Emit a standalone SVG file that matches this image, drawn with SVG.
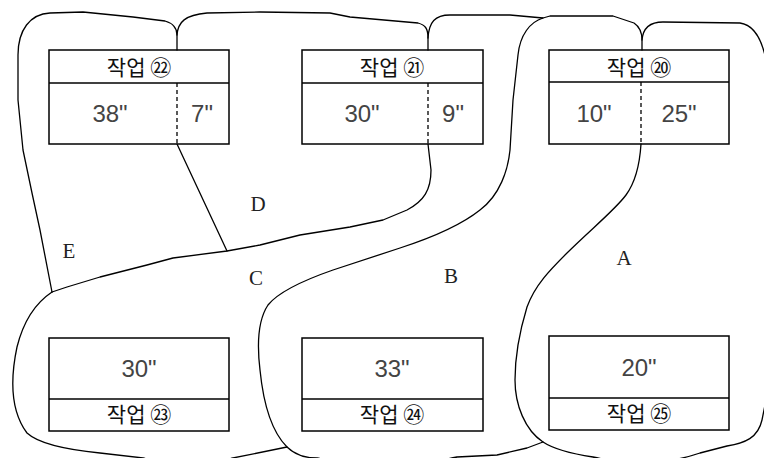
<svg xmlns="http://www.w3.org/2000/svg" width="764" height="458" viewBox="0 0 764 458">
<style>
.box{fill:none;stroke:#000;stroke-width:1.5}
.dash{stroke:#000;stroke-width:1.3;stroke-dasharray:4 3}
.ln{fill:none;stroke:#000;stroke-width:1.3;stroke-linejoin:round;stroke-linecap:round}
.kr{font-family:"Noto Sans CJK KR","Noto Sans",sans-serif;font-size:21px;fill:#111;text-anchor:middle}
.num{font-family:"Liberation Sans",Arial,sans-serif;font-size:24px;fill:#444;text-anchor:middle}
.lbl{font-family:"Liberation Serif","Times New Roman",serif;font-size:21px;fill:#222;text-anchor:middle}
</style>
<rect width="764" height="458" fill="#fff"/>
<g id="connectors">
<path class="ln" d="M177,50 L177,35 C177,27 172,23 165,21 L133,17 L83,12 L50,13 C30,14 18,30 18,55 L18,100 L23,150 L32,193 L40,230 L52,292"/>
<path class="ln" d="M177,35 C178,22 185,15 207,13 L260,12 L330,13 L350,17 L418,23 C425,25 428,28 428,38 L428,50"/>
<path class="ln" d="M428,38 C429,22 435,15 450,15 L510,15 L543,18 L550,16 L613,16 L634,23 C640,27 642,32 642,40 L642,50"/>
<path class="ln" d="M177,144 L227,251"/>
<path class="ln" d="M52,292 L67,287 L100,277 L147,265 L173,258 L227,251 L260,245 L300,235 L350,227 L383,220 L407,210 C424,201 431,190 431,170 L428,144"/>
<path class="ln" d="M52,292 C40,300 25,315 17,347 C10,380 10,410 27,433 C40,445 70,450 100,453 L143,458 Q188,470 233,458 L287,447"/>
<path class="ln" d="M543,18 C530,22 520,35 518,55 L513,100 L510,150 C508,170 500,195 480,210 C465,222 440,235 400,248 L333,270 C310,278 280,290 268,305 C258,320 257,345 260,370 C263,400 270,430 287,447 C295,455 305,458 317,458 Q387,472 457,457 L497,455 L527,448 L543,442"/>
<path class="ln" d="M641,144 C640,160 637,180 626,195 C615,210 590,230 567,253 C550,270 535,285 527,307 C520,330 515,355 515,380 C515,405 525,430 543,442 C555,450 580,455 593,457 Q650,470 700,453 L727,446 C745,443 758,438 762,420 L766,400 L766,60 C762,40 755,25 740,23 L663,22 C650,22 643,28 642,40"/>
</g>
<g id="job22">
<rect class="box" x="49" y="50" width="180" height="94"/>
<line class="box" x1="49" y1="83" x2="229" y2="83"/>
<line class="dash" x1="177" y1="83" x2="177" y2="144"/>
<text class="kr" x="139" y="75">작업 ㉒</text>
<text class="num" x="110" y="122">38"</text>
<text class="num" x="202" y="122">7"</text>
</g>
<g id="job21">
<rect class="box" x="302" y="50" width="181" height="94"/>
<line class="box" x1="302" y1="83" x2="483" y2="83"/>
<line class="dash" x1="428" y1="83" x2="428" y2="144"/>
<text class="kr" x="392" y="75">작업 ㉑</text>
<text class="num" x="362" y="122">30"</text>
<text class="num" x="453" y="122">9"</text>
</g>
<g id="job20">
<rect class="box" x="549" y="50" width="180" height="94"/>
<line class="box" x1="549" y1="82" x2="729" y2="82"/>
<line class="dash" x1="641" y1="82" x2="641" y2="144"/>
<text class="kr" x="639" y="75">작업 ⑳</text>
<text class="num" x="594" y="122">10"</text>
<text class="num" x="679" y="122">25"</text>
</g>
<g id="job23">
<rect class="box" x="49" y="338" width="180" height="93"/>
<line class="box" x1="49" y1="399" x2="229" y2="399"/>
<text class="num" x="139" y="377">30"</text>
<text class="kr" x="139" y="422">작업 ㉓</text>
</g>
<g id="job24">
<rect class="box" x="302" y="338" width="181" height="93"/>
<line class="box" x1="302" y1="399" x2="483" y2="399"/>
<text class="num" x="392" y="377">33"</text>
<text class="kr" x="392" y="422">작업 ㉔</text>
</g>
<g id="job25">
<rect class="box" x="549" y="336" width="180" height="94"/>
<line class="box" x1="549" y1="398" x2="729" y2="398"/>
<text class="num" x="639" y="376">20"</text>
<text class="kr" x="639" y="421">작업 ㉕</text>
</g>
<g id="labels">
<text class="lbl" x="258" y="211">D</text>
<text class="lbl" x="69" y="258">E</text>
<text class="lbl" x="256" y="285">C</text>
<text class="lbl" x="451" y="283">B</text>
<text class="lbl" x="624" y="265">A</text>
</g>
</svg>
